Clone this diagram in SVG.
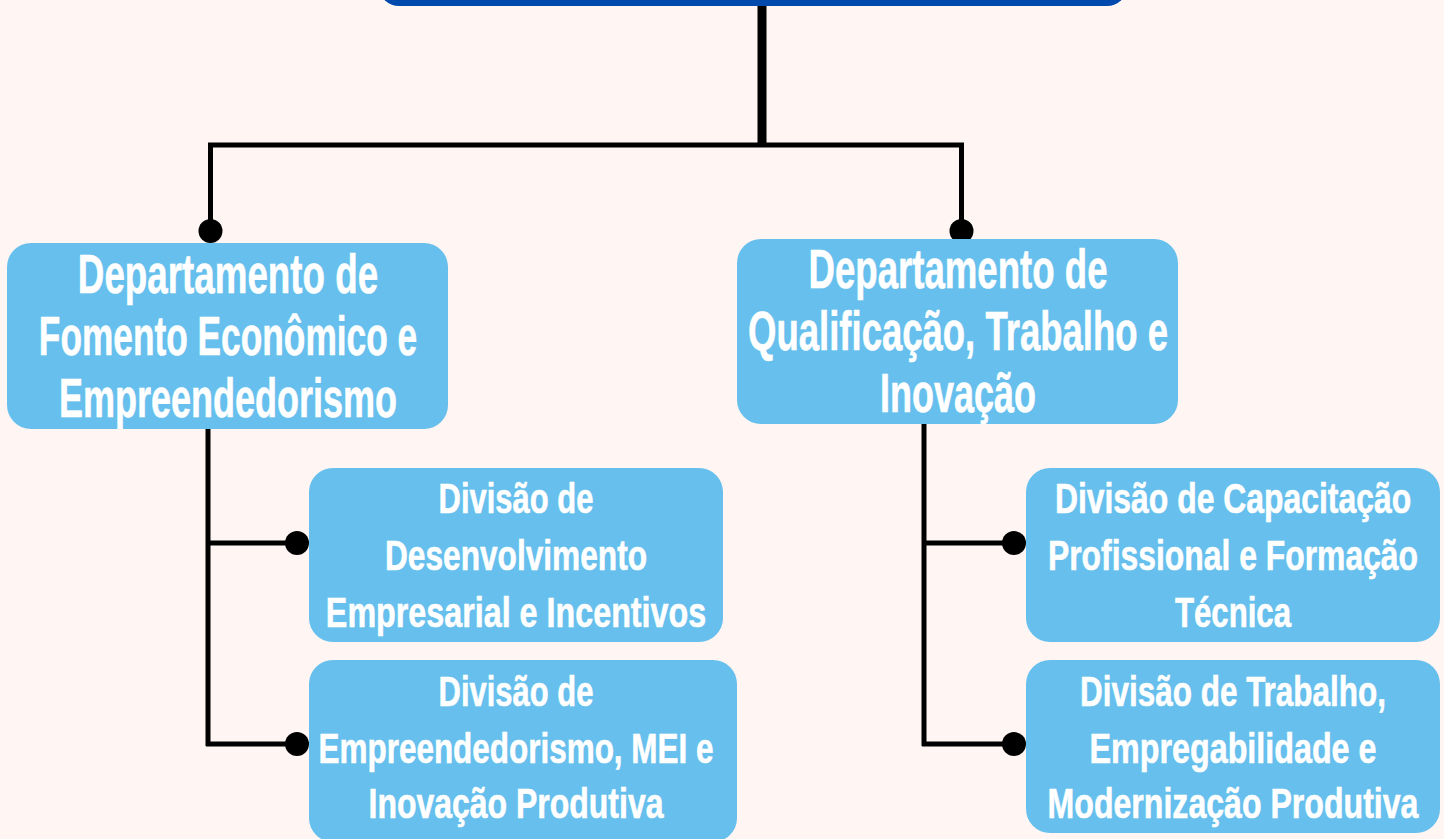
<svg xmlns="http://www.w3.org/2000/svg" width="1444" height="839" viewBox="0 0 1444 839">
<style>
.bg{fill:#FFF6F3}
.box{fill:#66BFEC}
.top{fill:#004AAD}
.ln{stroke:#000;fill:none;stroke-linecap:butt}
.dot{fill:#000}
.t{font-family:"Liberation Sans",Arial,sans-serif;font-weight:bold;fill:#fff;text-anchor:middle;stroke:#fff;stroke-width:0.6}
.d{font-size:56px}
.v{font-size:43px}
</style>
<rect class="bg" x="0" y="0" width="1444" height="839"/>
<g id="connectors">
<line class="ln" x1="762" y1="0" x2="762" y2="147" stroke-width="9"/>
<line class="ln" x1="208" y1="145" x2="964" y2="145" stroke-width="5"/>
<line class="ln" x1="210.5" y1="143" x2="210.5" y2="231" stroke-width="5"/>
<line class="ln" x1="961.5" y1="143" x2="961.5" y2="231" stroke-width="5"/>
<circle class="dot" cx="210.5" cy="231" r="12"/>
<circle class="dot" cx="961.5" cy="231" r="12"/>
<line class="ln" x1="208" y1="425" x2="208" y2="746" stroke-width="5"/>
<line class="ln" x1="206" y1="543" x2="297" y2="543" stroke-width="5"/>
<line class="ln" x1="206" y1="744" x2="297" y2="744" stroke-width="5"/>
<circle class="dot" cx="297" cy="543" r="12"/>
<circle class="dot" cx="297" cy="744" r="12"/>
<line class="ln" x1="924" y1="422" x2="924" y2="746" stroke-width="5"/>
<line class="ln" x1="922" y1="543" x2="1014" y2="543" stroke-width="5"/>
<line class="ln" x1="922" y1="744" x2="1014" y2="744" stroke-width="5"/>
<circle class="dot" cx="1014" cy="543" r="12"/>
<circle class="dot" cx="1014" cy="744" r="12"/>
</g>
<g id="top">
<rect class="top" x="379" y="-40" width="748" height="46" rx="20"/>
</g>
<g id="dept1">
<rect class="box" x="7" y="243" width="441" height="186" rx="24"/>
<text class="t d" transform="translate(228,293) scale(0.65,1)" x="0" y="0" textLength="462" lengthAdjust="spacingAndGlyphs">Departamento de</text>
<text class="t d" transform="translate(228,355) scale(0.65,1)" x="0" y="0" textLength="582" lengthAdjust="spacingAndGlyphs">Fomento Econômico e</text>
<text class="t d" transform="translate(228,417) scale(0.65,1)" x="0" y="0" textLength="520" lengthAdjust="spacingAndGlyphs">Empreendedorismo</text>
</g>
<g id="dept2">
<rect class="box" x="737" y="239" width="441" height="185" rx="24"/>
<text class="t d" transform="translate(958,288) scale(0.65,1)" x="0" y="0" textLength="460" lengthAdjust="spacingAndGlyphs">Departamento de</text>
<text class="t d" transform="translate(958,350) scale(0.65,1)" x="0" y="0" textLength="646" lengthAdjust="spacingAndGlyphs">Qualificação, Trabalho e</text>
<text class="t d" transform="translate(958,412) scale(0.65,1)" x="0" y="0" textLength="240" lengthAdjust="spacingAndGlyphs">Inovação</text>
</g>
<g id="div1">
<rect class="box" x="309" y="468" width="414" height="174" rx="24"/>
<text class="t v" transform="translate(516,513) scale(0.73,1)" x="0" y="0" textLength="212" lengthAdjust="spacingAndGlyphs">Divisão de</text>
<text class="t v" transform="translate(516,570) scale(0.73,1)" x="0" y="0" textLength="359" lengthAdjust="spacingAndGlyphs">Desenvolvimento</text>
<text class="t v" transform="translate(516,627) scale(0.73,1)" x="0" y="0" textLength="521" lengthAdjust="spacingAndGlyphs">Empresarial e Incentivos</text>
</g>
<g id="div2">
<rect class="box" x="309" y="660" width="428" height="182" rx="24"/>
<text class="t v" transform="translate(516,706) scale(0.73,1)" x="0" y="0" textLength="212" lengthAdjust="spacingAndGlyphs">Divisão de</text>
<text class="t v" transform="translate(516,763) scale(0.73,1)" x="0" y="0" textLength="541" lengthAdjust="spacingAndGlyphs">Empreendedorismo, MEI e</text>
<text class="t v" transform="translate(516,818) scale(0.73,1)" x="0" y="0" textLength="404" lengthAdjust="spacingAndGlyphs">Inovação Produtiva</text>
</g>
<g id="div3">
<rect class="box" x="1026" y="468" width="414" height="174" rx="24"/>
<text class="t v" transform="translate(1233,513) scale(0.73,1)" x="0" y="0" textLength="488" lengthAdjust="spacingAndGlyphs">Divisão de Capacitação</text>
<text class="t v" transform="translate(1233,570) scale(0.73,1)" x="0" y="0" textLength="507" lengthAdjust="spacingAndGlyphs">Profissional e Formação</text>
<text class="t v" transform="translate(1233,627) scale(0.73,1)" x="0" y="0" textLength="159" lengthAdjust="spacingAndGlyphs">Técnica</text>
</g>
<g id="div4">
<rect class="box" x="1026" y="660" width="414" height="173" rx="24"/>
<text class="t v" transform="translate(1233,706) scale(0.73,1)" x="0" y="0" textLength="419" lengthAdjust="spacingAndGlyphs">Divisão de Trabalho,</text>
<text class="t v" transform="translate(1233,763) scale(0.73,1)" x="0" y="0" textLength="393" lengthAdjust="spacingAndGlyphs">Empregabilidade e</text>
<text class="t v" transform="translate(1233,818) scale(0.73,1)" x="0" y="0" textLength="508" lengthAdjust="spacingAndGlyphs">Modernização Produtiva</text>
</g>
</svg>
